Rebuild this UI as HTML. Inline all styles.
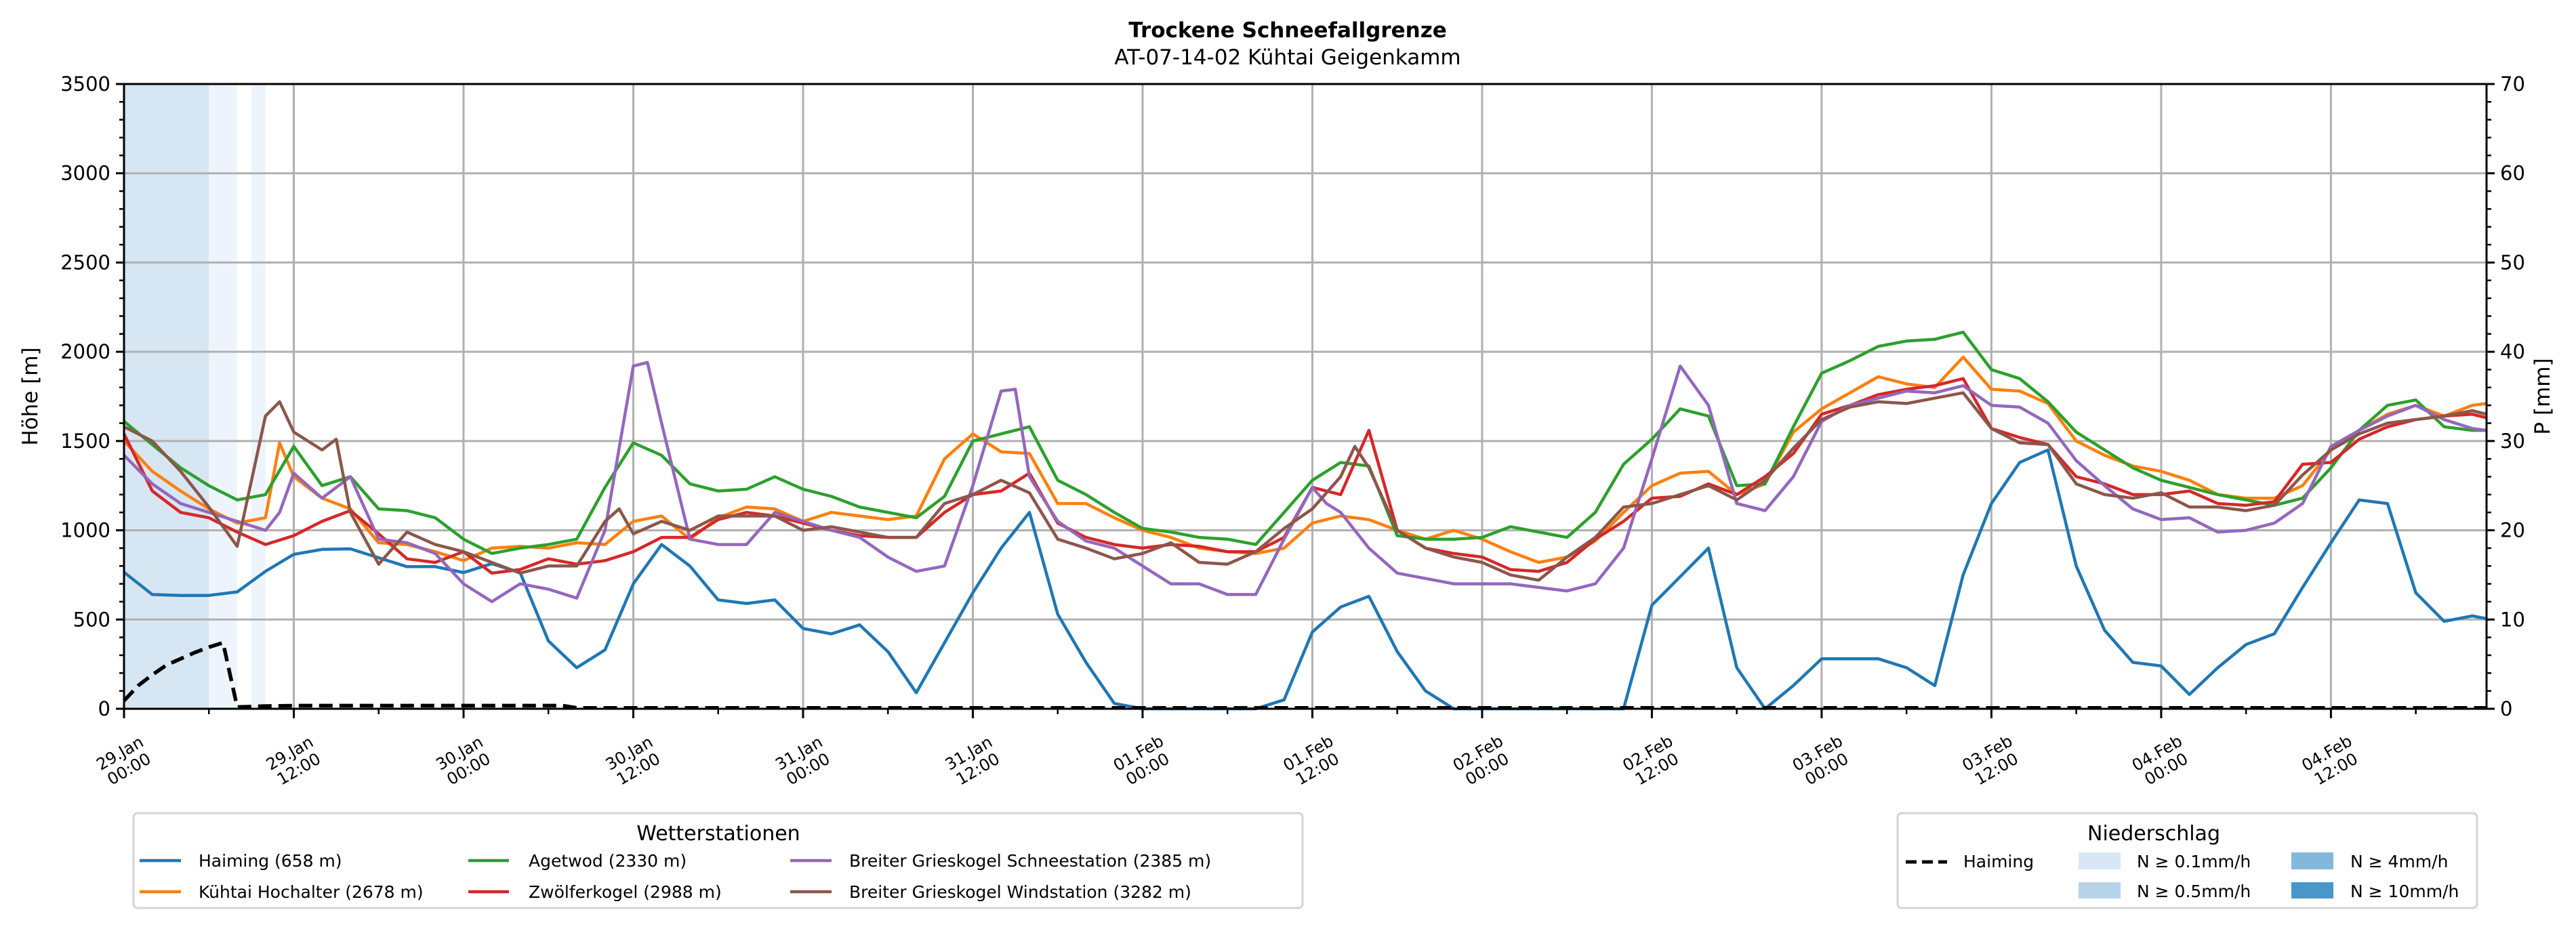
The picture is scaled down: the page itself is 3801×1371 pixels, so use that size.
<!DOCTYPE html>
<html><head><meta charset="utf-8"><style>
html,body{margin:0;padding:0;background:#fff}
svg{display:block;font-family:"DejaVu Sans","Liberation Sans",sans-serif}
</style></head><body>
<svg id="chart" width="3801" height="1371" viewBox="0 0 3801 1371" xmlns="http://www.w3.org/2000/svg">
<text x="1900" y="55" text-anchor="middle" font-size="31" font-weight="bold">Trockene Schneefallgrenze</text>
<text x="1900" y="95" text-anchor="middle" font-size="31">AT-07-14-02 Kühtai Geigenkamm</text>
<g id="bands"></g>
<g id="grid"></g>
<g id="series"></g>
<g id="axes"></g>
<text transform="translate(55,585) rotate(-90)" text-anchor="middle" font-size="31">Höhe [m]</text>
<text transform="translate(3762,585) rotate(-90)" text-anchor="middle" font-size="31">P [mm]</text>

<g>
<rect x="197" y="1200" width="1725" height="140" rx="6" fill="#fff" stroke="#d4d4d4" stroke-width="3"/>
<text x="1060" y="1240" text-anchor="middle" font-size="30">Wetterstationen</text>
<g><line x1="206" y1="1270" x2="267" y2="1270" stroke="#1f77b4" stroke-width="4.5"/><text x="293" y="1279" font-size="25">Haiming (658 m)</text></g>
<g><line x1="206" y1="1316" x2="267" y2="1316" stroke="#ff7f0e" stroke-width="4.5"/><text x="293" y="1325" font-size="25">Kühtai Hochalter (2678 m)</text></g>
<g><line x1="691" y1="1270" x2="751" y2="1270" stroke="#2ca02c" stroke-width="4.5"/><text x="780" y="1279" font-size="25">Agetwod (2330 m)</text></g>
<g><line x1="691" y1="1316" x2="751" y2="1316" stroke="#d62728" stroke-width="4.5"/><text x="780" y="1325" font-size="25">Zwölferkogel (2988 m)</text></g>
<g><line x1="1166" y1="1270" x2="1227" y2="1270" stroke="#9467bd" stroke-width="4.5"/><text x="1253" y="1279" font-size="25">Breiter Grieskogel Schneestation (2385 m)</text></g>
<g><line x1="1166" y1="1316" x2="1227" y2="1316" stroke="#8c564b" stroke-width="4.5"/><text x="1253" y="1325" font-size="25">Breiter Grieskogel Windstation (3282 m)</text></g>
</g>

<g>
<rect x="2800" y="1200" width="855" height="140" rx="6" fill="#fff" stroke="#d4d4d4" stroke-width="3"/>
<text x="3178" y="1240" text-anchor="middle" font-size="30">Niederschlag</text>
<g><line x1="2812" y1="1272" x2="2873" y2="1272" stroke="#000" stroke-width="5" stroke-dasharray="16,8"/><text x="2897" y="1280" font-size="25">Haiming</text></g>
<g><rect x="3067" y="1258" width="62" height="25" fill="#d9e7f5"/><text x="3153" y="1280" font-size="25">N ≥ 0.1mm/h</text></g>
<g><rect x="3067" y="1302" width="62" height="24" fill="#b7d3ea"/><text x="3153" y="1324" font-size="25">N ≥ 0.5mm/h</text></g>
<g><rect x="3381" y="1258" width="62" height="25" fill="#84b8da"/><text x="3468" y="1280" font-size="25">N ≥ 4mm/h</text></g>
<g><rect x="3381" y="1302" width="62" height="24" fill="#4a96c8"/><text x="3468" y="1324" font-size="25">N ≥ 10mm/h</text></g>
</g>
</svg>
<script>
const yTicks = [0,500,1000,1500,2000,2500,3000,3500];
const y2Ticks = [0,10,20,30,40,50,60,70];
const xTickHours = [0,12,24,36,48,60,72,84,96,108,120,132,144,156];
const xTickDay = ["29.Jan","29.Jan","30.Jan","30.Jan","31.Jan","31.Jan","01.Feb","01.Feb","02.Feb","02.Feb","03.Feb","03.Feb","04.Feb","04.Feb"];
const xTickTime = ["00:00","12:00","00:00","12:00","00:00","12:00","00:00","12:00","00:00","12:00","00:00","12:00","00:00","12:00"];

const bandStart = [0,6,9];
const bandEnd = [6,8,10];
const bandColor = ["#d7e6f3","#eef4fb","#eef4fb"];

const hHaiming = [0,2,4,6,8,10,12,14,16,18,20,22,24,26,28,30,32,34,36,38,40,42,44,46,48,50,52,54,56,58,60,62,64,66,68,70,72,80,82,84,86,88,90,92,94,106,108,110,112,114,116,118,120,122,124,126,128,130,132,134,136,138,140,142,144,146,148,150,152,154,156,158,160,162,164,166,167];
const vHaiming = [765,640,635,635,655,770,865,893,896,846,796,796,763,813,763,380,230,330,700,920,800,610,590,610,450,420,470,320,90,370,650,900,1100,530,260,30,0,0,50,430,570,630,320,100,0,0,580,740,900,230,0,130,280,280,280,230,130,750,1150,1380,1450,800,440,260,240,80,230,360,420,680,930,1170,1150,650,490,520,505];

const hAgetwod = [0,2,4,6,8,10,12,14,16,18,20,22,24,26,28,30,32,34,36,38,40,42,44,46,48,50,52,54,56,58,60,62,64,66,68,70,72,74,76,78,80,82,84,86,88,90,92,94,96,98,100,102,104,106,108,110,112,114,116,118,120,122,124,126,128,130,132,134,136,138,140,142,144,146,148,150,152,154,156,158,160,162,164,166,167];
const vAgetwod = [1610,1480,1350,1250,1170,1200,1470,1250,1300,1120,1110,1070,950,870,900,920,950,1240,1490,1420,1260,1220,1230,1300,1230,1190,1130,1100,1070,1190,1500,1540,1580,1280,1200,1100,1010,990,960,950,920,1100,1280,1380,1360,970,950,950,960,1020,990,960,1100,1370,1510,1680,1640,1250,1260,1580,1880,1950,2030,2060,2070,2110,1900,1850,1720,1550,1450,1350,1280,1240,1200,1170,1140,1180,1350,1560,1700,1730,1580,1560,1560];

const hKuehtai = [0,2,4,6,8,10,11,12,14,16,18,20,22,24,26,28,30,32,34,36,38,40,42,44,46,48,50,52,54,56,58,60,62,64,66,68,70,72,74,76,78,80,82,84,86,88,90,92,94,96,98,100,102,104,106,108,110,112,114,116,118,120,122,124,126,128,130,132,134,136,138,140,142,144,146,148,150,152,154,156,158,160,162,164,166,167];
const vKuehtai = [1500,1330,1220,1120,1040,1070,1490,1300,1180,1120,930,920,880,830,900,910,900,930,920,1050,1080,950,1070,1130,1120,1050,1100,1080,1060,1080,1400,1540,1440,1430,1150,1150,1070,1000,960,900,880,870,900,1040,1080,1060,1000,950,1000,950,880,820,850,940,1100,1250,1320,1330,1200,1260,1550,1680,1770,1860,1820,1800,1970,1790,1780,1710,1500,1420,1360,1330,1280,1200,1180,1180,1250,1450,1560,1650,1700,1640,1700,1710];

const hZwoelfer = [0,2,4,6,8,10,12,14,16,18,20,22,24,26,28,30,32,34,36,38,40,42,44,46,48,50,52,54,56,58,60,62,64,66,68,70,72,74,76,78,80,82,84,86,88,90,92,94,96,98,100,102,104,106,108,110,112,114,116,118,120,122,124,126,128,130,132,134,136,138,140,142,144,146,148,150,152,154,156,158,160,162,164,166,167];
const vZwoelfer = [1540,1220,1100,1070,990,920,970,1050,1110,980,840,820,880,760,780,840,810,830,880,960,960,1060,1100,1080,1040,1000,970,960,960,1100,1200,1220,1320,1040,960,920,900,920,910,880,880,960,1240,1200,1560,1000,900,870,850,780,770,820,950,1050,1180,1190,1260,1200,1300,1430,1650,1700,1760,1790,1810,1850,1570,1520,1480,1300,1260,1200,1200,1220,1150,1140,1160,1370,1380,1510,1580,1620,1640,1650,1630];

const hSchnee = [0,2,4,6,8,10,11,12,14,16,18,20,22,24,26,28,30,32,34,36,37,38,40,42,44,46,48,50,52,54,56,58,60,62,63,64,66,68,70,72,74,76,78,80,82,84,85,86,88,90,92,94,96,98,100,102,104,106,108,110,112,114,116,118,120,122,124,126,128,130,132,134,136,138,140,142,144,146,148,150,152,154,156,158,160,162,164,166,167];
const vSchnee = [1420,1260,1150,1100,1050,1000,1100,1320,1180,1300,950,930,870,700,600,700,670,620,1000,1920,1940,1600,950,920,920,1100,1050,1000,960,850,770,800,1250,1780,1790,1300,1050,940,900,800,700,700,640,640,950,1240,1150,1100,900,760,730,700,700,700,680,660,700,900,1400,1920,1700,1150,1110,1300,1610,1700,1740,1780,1770,1810,1700,1690,1600,1390,1250,1120,1060,1070,990,1000,1040,1150,1470,1560,1640,1700,1620,1570,1560];

const hWind = [0,2,4,6,8,10,11,12,14,15,16,18,20,22,24,26,28,30,32,34,35,36,38,40,42,44,46,48,50,52,54,56,58,60,62,64,66,68,70,72,74,76,78,80,82,84,86,87,88,90,92,94,96,98,100,102,104,106,108,110,112,114,116,118,120,122,124,126,128,130,132,134,136,138,140,142,144,146,148,150,152,154,156,158,160,162,164,166,167];
const vWind = [1580,1500,1330,1130,910,1640,1720,1550,1450,1510,1100,810,990,920,880,820,760,800,800,1050,1120,980,1050,1000,1080,1080,1080,1000,1020,990,960,960,1150,1200,1280,1210,950,900,840,870,930,820,810,880,1010,1120,1300,1470,1350,1000,900,850,820,750,720,850,960,1130,1150,1200,1250,1170,1280,1460,1620,1690,1720,1710,1740,1770,1570,1490,1480,1260,1200,1180,1210,1130,1130,1110,1140,1310,1450,1540,1600,1620,1640,1670,1650];

const hPrecip = [0,1,2,3,4,5,6,7,8,10,12,31,32,167];
const vPrecip = [0.9,2.6,3.8,4.9,5.6,6.3,6.9,7.4,0.2,0.3,0.35,0.35,0.1,0.1];

const NS="http://www.w3.org/2000/svg";
const L=183,R=3669,T=124,B=1046,HMAX=167;
function xs(h){return L+h*(R-L)/HMAX;}
function ys(m){return B-m*(B-T)/3500;}
function ys2(p){return B-p*(B-T)/70;}
function mk(tag,attrs,parent){const e=document.createElementNS(NS,tag);for(const k in attrs)e.setAttribute(k,attrs[k]);parent.appendChild(e);return e;}

const gb=document.getElementById('bands');
bandStart.forEach((s,i)=>{
  const r=mk('rect',{x:xs(s),y:T,width:xs(bandEnd[i])-xs(s),height:B-T,fill:bandColor[i]},gb);
  
  
});

const gg=document.getElementById('grid');
yTicks.forEach(v=>{const l=mk('line',{x1:L,x2:R,y1:ys(v),y2:ys(v),stroke:'#b0b0b0','stroke-width':3},gg);
  
  });
xTickHours.forEach(h=>{const l=mk('line',{x1:xs(h),x2:xs(h),y1:T,y2:B,stroke:'#b0b0b0','stroke-width':3},gg);
  
  });

const gs=document.getElementById('series');
function line(hs,vs,color,name,scale,extra){
  const d=hs.map((h,i)=>(i?'L':'M')+xs(h).toFixed(1)+','+scale(vs[i]).toFixed(1)).join('');
  const p=mk('path',Object.assign({d:d,fill:'none',stroke:color,'stroke-width':4.5,'stroke-linejoin':'round'},extra||{}),gs);
  
  
}
line(hHaiming,vHaiming,'#1f77b4','haiming-line',ys);
line(hKuehtai,vKuehtai,'#ff7f0e','kuehtai-line',ys);
line(hAgetwod,vAgetwod,'#2ca02c','agetwod-line',ys);
line(hZwoelfer,vZwoelfer,'#d62728','zwoelferkogel-line',ys);
line(hSchnee,vSchnee,'#9467bd','schneestation-line',ys);
line(hWind,vWind,'#8c564b','windstation-line',ys);
line(hPrecip,vPrecip,'#000','precip-line',ys2,{'stroke-width':5.5,'stroke-dasharray':'20,10'});

const ga=document.getElementById('axes');
mk('rect',{x:L,y:T,width:R-L,height:B-T,fill:'none',stroke:'#000','stroke-width':3},ga);
yTicks.forEach(v=>{
  mk('line',{x1:L-12,x2:L,y1:ys(v),y2:ys(v),stroke:'#000','stroke-width':3},ga);
  const t=mk('text',{x:L-20,y:ys(v)+10,'text-anchor':'end','font-size':29},ga);t.textContent=v;
  
  
});
for(let v=0;v<=3500;v+=100){mk('line',{x1:L-7,x2:L,y1:ys(v),y2:ys(v),stroke:'#000','stroke-width':2.5},ga);
  mk('line',{x1:R,x2:R+7,y1:ys(v),y2:ys(v),stroke:'#000','stroke-width':2.5},ga);}
y2Ticks.forEach(v=>{
  mk('line',{x1:R,x2:R+12,y1:ys2(v),y2:ys2(v),stroke:'#000','stroke-width':3},ga);
  const t=mk('text',{x:R+20,y:ys2(v)+10,'font-size':29},ga);t.textContent=v;
  
  
});
for(let h=6;h<HMAX;h+=12){mk('line',{x1:xs(h),x2:xs(h),y1:B,y2:B+8,stroke:'#000','stroke-width':2.5},ga);}
xTickHours.forEach((h,i)=>{
  const x=xs(h);
  mk('line',{x1:x,x2:x,y1:B,y2:B+14,stroke:'#000','stroke-width':3},ga);
  const t=mk('text',{transform:'translate('+x+',1122) rotate(-30)','text-anchor':'middle','font-size':24},ga);
  
  
  const a=mk('tspan',{x:0,y:-4},t);a.textContent=xTickDay[i];
  const b=mk('tspan',{x:0,y:23},t);b.textContent=xTickTime[i];
});
</script>
</body></html>
